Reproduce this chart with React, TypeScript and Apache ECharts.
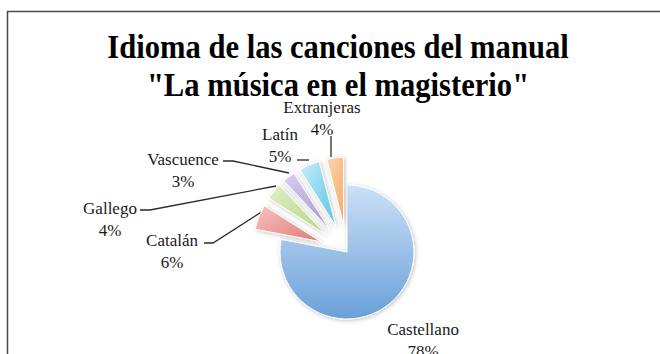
import React, { useEffect, useRef } from "react";
import * as echarts from "echarts";

const categories = ["Castellano", "Catalán", "Gallego", "Vascuence", "Latín", "Extranjeras"];
const values = [78, 6, 4, 3, 5, 4];
const exploded = [false, true, true, true, true, true];
const titleLines = ["Idioma de las canciones del manual", "\"La música en el magisterio\""];

// light / dark gradient stops per slice
const lightColors = ["#cce0f7", "#f7c3c1", "#e0eec6", "#d9cdef", "#c9eefb", "#fdd6b0"];
const darkColors = ["#6aa0d8", "#e27a78", "#b8d47f", "#a896d0", "#55c3e4", "#f7a865"];

// label layout (centre of each two-line label) and leader lines
const labelXY: number[][] = [
  [423, 340],
  [172, 251],
  [110, 219],
  [183, 170],
  [280, 145],
  [322, 118],
];
const leaderLines: (number[][] | null)[] = [
  null,
  [[204, 243], [213, 243], [266, 209]],
  [[140, 210], [150, 210], [276, 186]],
  [[223, 161], [233, 161], [289, 173]],
  [[297, 160], [309, 160]],
  [[331, 136], [331, 157]],
];

export default function App() {
  const ref = useRef<HTMLDivElement>(null);
  useEffect(() => {
    if (!ref.current) return;
    const chart = echarts.init(ref.current, null, { renderer: "svg" });
    const data = categories.map((name, i) => ({
      name,
      value: values[i],
      selected: exploded[i],
      itemStyle: {
        color: new echarts.graphic.LinearGradient(0, 0, i === 0 ? 0 : 1, 1, [
          { offset: 0, color: lightColors[i] },
          { offset: 1, color: darkColors[i] },
        ]),
      },
    }));
    const labelTexts = categories.map((name, i) => ({
      type: "text",
      x: labelXY[i][0],
      y: labelXY[i][1],
      silent: true,
      style: {
        text: `${name}\n${values[i]}%`,
        font: "17px 'Liberation Serif'",
        lineHeight: 22,
        fill: "#1a1a1a",
        textAlign: "center",
        textVerticalAlign: "middle",
      },
    }));
    const lines = leaderLines
      .filter((p) => p != null)
      .map((p) => ({
        type: "polyline",
        silent: true,
        shape: { points: p },
        style: { stroke: "#2a2a2a", lineWidth: 1.3, fill: "none" },
      }));
    chart.setOption({
      animation: false,
      backgroundColor: "#ffffff",
      graphic: [
        {
          type: "rect",
          shape: { x: 7.5, y: 11.5, width: 700, height: 400 },
          style: { fill: "none", stroke: "#4a4a4a", lineWidth: 1.5 },
          silent: true,
        },
        ...titleLines.map((t, k) => ({
          type: "text",
          x: 338,
          y: k === 0 ? 46 : 84,
          scaleX: 0.9,
          style: {
            text: t,
            font: "bold 34px 'Liberation Serif'",
            fill: "#000000",
            textAlign: "center",
            textVerticalAlign: "middle",
          },
          silent: true,
        })),
        ...lines,
        ...labelTexts,
      ],
      series: [
        {
          type: "pie",
          center: [347, 252],
          radius: 67,
          startAngle: 90,
          clockwise: true,
          selectedMode: "multiple",
          selectedOffset: 28,
          silent: true,
          itemStyle: {
            borderColor: "#ffffff",
            borderWidth: 1,
            shadowBlur: 4,
            shadowColor: "rgba(0,0,0,0.25)",
            shadowOffsetX: 1,
            shadowOffsetY: 1,
          },
          label: { show: false },
          labelLine: { show: false },
          data,
        },
      ],
    });
    return () => chart.dispose();
  }, []);
  return (
    <div
      ref={ref}
      style={{ position: "fixed", left: 0, top: 0, width: 660, height: 354 }}
    />
  );
}
